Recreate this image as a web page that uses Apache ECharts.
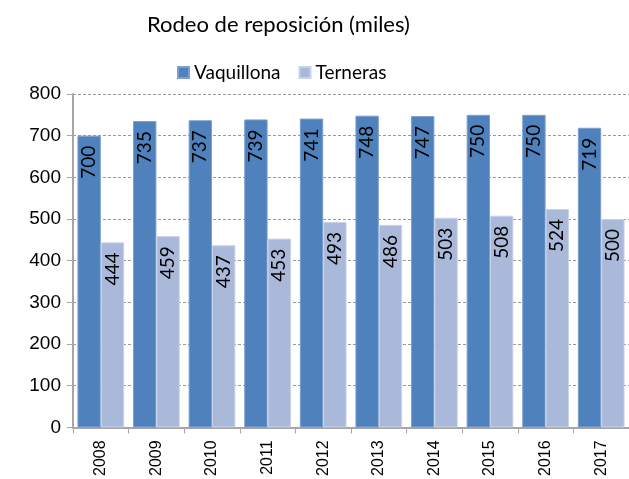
<!DOCTYPE html>
<html>
<head>
<meta charset="utf-8">
<script src="https://cdn.jsdelivr.net/npm/echarts@6/dist/echarts.min.js"></script>
<style>
  html, body { margin: 0; padding: 0; background: #fff; }
  #main { width: 629px; height: 479px; }
</style>
</head>
<body>
<div id="main"></div>
<script>
// datos del gráfico
var years = ['2008', '2009', '2010', '2011', '2012', '2013', '2014', '2015', '2016', '2017'];
var vaquillona = [700, 735, 737, 739, 741, 748, 747, 750, 750, 719];
var terneras = [444, 459, 437, 453, 493, 486, 503, 508, 524, 500];

var chart = echarts.init(document.getElementById('main'));

// etiqueta vertical dentro de la barra, cerca del tope
var barLabel = {
  show: true,
  position: 'insideTop',
  rotate: 90,
  align: 'right',
  verticalAlign: 'middle',
  distance: 10,
  color: '#000',
  fontSize: 19,
  fontFamily: 'Lato'
};

var option = {
  animation: false,
  title: {
    text: 'Rodeo de reposición (miles)',
    left: 142,
    top: 9,
    textStyle: {
      fontFamily: 'Lato',
      fontWeight: 'normal',
      fontSize: 22,
      color: '#000'
    }
  },
  legend: {
    data: ['Vaquillona', 'Terneras'],
    top: 58,
    left: 172,
    icon: 'rect',
    itemWidth: 11,
    itemHeight: 11,
    itemGap: 18,
    textStyle: {
      fontFamily: 'Lato',
      fontSize: 19,
      color: '#000'
    }
  },
  grid: {
    left: 73,
    right: -2,
    top: 94,
    bottom: 50
  },
  xAxis: {
    type: 'category',
    data: years,
    axisLine: { lineStyle: { color: '#a6a6a6', width: 2 } },
    axisTick: { show: true, length: 6, lineStyle: { color: '#a6a6a6' } },
    axisLabel: {
      rotate: 90,
      color: '#000',
      fontSize: 16,
      fontFamily: 'Liberation Sans',
      margin: 13
    }
  },
  yAxis: {
    type: 'value',
    min: 0,
    max: 800,
    interval: 100,
    axisLine: { show: true, lineStyle: { color: '#a6a6a6', width: 2 } },
    axisTick: { show: true, length: 6, lineStyle: { color: '#a6a6a6' } },
    axisLabel: {
      color: '#000',
      fontSize: 19,
      fontFamily: 'Liberation Sans',
      margin: 12
    },
    splitLine: { lineStyle: { color: '#999', type: [3, 2], width: 1 } }
  },
  series: [{
    name: 'Vaquillona',
    type: 'bar',
    data: vaquillona,
    barGap: '0%',
    barCategoryGap: '16%',
    itemStyle: { color: '#4f81bd', borderColor: '#7a9fd0', borderWidth: 1 },
    label: barLabel
  }, {
    name: 'Terneras',
    type: 'bar',
    data: terneras,
    itemStyle: { color: '#aab9da', borderColor: '#c8d3ea', borderWidth: 1 },
    label: barLabel
  }]
};

chart.setOption(option);
</script>
</body>
</html>
